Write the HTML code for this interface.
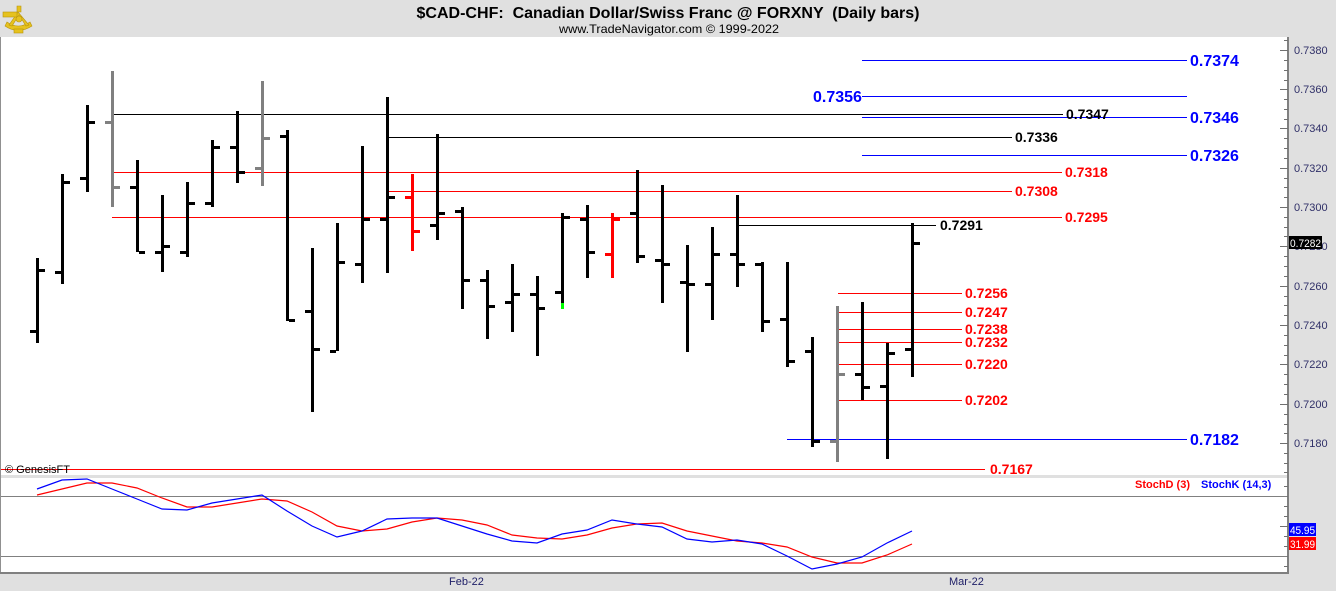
<!DOCTYPE html>
<html><head><meta charset="utf-8"><style>
html,body{margin:0;padding:0;background:#e0e0e0;}
svg{display:block;font-family:"Liberation Sans",Arial,sans-serif;}
</style></head><body>
<svg width="1336" height="591" viewBox="0 0 1336 591" xmlns="http://www.w3.org/2000/svg">
<rect x="0" y="0" width="1336" height="591" fill="#e0e0e0"/>
<!-- logo -->
<g fill="#e6c21e" stroke="#b8940c" stroke-width="0.6">
<path d="M5 26 Q18 35 32 26 L30 22 Q18 30 7 22 Z"/>
<path d="M17 6 L21 6 L21 12 L17 12 Z"/>
<path d="M18 12 L9 25 L12 26 L19 15 L26 26 L29 25 Z"/>
<rect x="3" y="12" width="14" height="5"/>
<rect x="14" y="29" width="9" height="4"/>
<circle cx="19" cy="19" r="3"/>
</g>
<!-- header text -->
<text x="668" y="18" text-anchor="middle" font-size="16" font-weight="bold" fill="#000" textLength="503" lengthAdjust="spacingAndGlyphs" style="white-space:pre">$CAD-CHF:  Canadian Dollar/Swiss Franc @ FORXNY  (Daily bars)</text>
<text x="669" y="33" text-anchor="middle" font-size="12" fill="#000" textLength="220" lengthAdjust="spacingAndGlyphs">www.TradeNavigator.com © 1999-2022</text>
<!-- panels -->
<rect x="1" y="37" width="1286" height="438" fill="#fff"/>
<rect x="1" y="478" width="1286" height="94" fill="#fff"/>
<rect x="0" y="37" width="1" height="537" fill="#909090"/>
<rect x="0" y="572" width="1289" height="2" fill="#808080"/>
<rect x="1287" y="37" width="2" height="537" fill="#808080"/>
<!-- price axis ticks -->
<g stroke="#707070" stroke-width="1">
<path d="M1280 50.5H1288M1280 89.5H1288M1280 128.5H1288M1280 168.5H1288M1280 207.5H1288M1280 246.5H1288M1280 286.5H1288M1280 325.5H1288M1280 364.5H1288M1280 404.5H1288M1280 443.5H1288"/>
<path d="M1284 40.5H1288M1284 60.5H1288M1284 70.5H1288M1284 80.5H1288M1284 99.5H1288M1284 109.5H1288M1284 119.5H1288M1284 138.5H1288M1284 148.5H1288M1284 158.5H1288M1284 178.5H1288M1284 187.5H1288M1284 197.5H1288M1284 217.5H1288M1284 227.5H1288M1284 236.5H1288M1284 256.5H1288M1284 266.5H1288M1284 276.5H1288M1284 296.5H1288M1284 305.5H1288M1284 315.5H1288M1284 335.5H1288M1284 345.5H1288M1284 355.5H1288M1284 374.5H1288M1284 384.5H1288M1284 394.5H1288M1284 414.5H1288M1284 424.5H1288M1284 433.5H1288M1284 453.5H1288M1284 463.5H1288M1284 472.5H1288"/>
<path d="M1280 496.5H1288M1280 526.5H1288M1280 556.5H1288M1284 486.5H1288M1284 506.5H1288M1284 516.5H1288M1284 536.5H1288M1284 546.5H1288M1284 566.5H1288"/>
</g>
<g font-size="11" fill="#303068">
<text x="1294" y="54">0.7380</text>
<text x="1294" y="93">0.7360</text>
<text x="1294" y="132">0.7340</text>
<text x="1294" y="172">0.7320</text>
<text x="1294" y="211">0.7300</text>
<text x="1294" y="250">0.7280</text>
<text x="1294" y="290">0.7260</text>
<text x="1294" y="329">0.7240</text>
<text x="1294" y="368">0.7220</text>
<text x="1294" y="408">0.7200</text>
<text x="1294" y="447">0.7180</text>
</g>
<rect x="1289" y="236" width="33" height="13" fill="#000"/>
<text x="1290" y="247" font-size="11" fill="#fff" textLength="31" lengthAdjust="spacingAndGlyphs">0.7282</text>
<!-- stoch levels -->
<path d="M1 496.5H1287M1 556.5H1287" stroke="#808080" stroke-width="1"/>
<!-- horizontal lines -->
<g stroke-width="1" fill="none">
<path d="M112 114.5H1063M387 137.5H1012M737 225.5H936" stroke="#000"/>
<path d="M112 172.5H1062M387 191.5H1012M112 217.5H1062M1 469.5H985M838 293.5H962M838 312.5H962M838 329.5H962M838 342.5H962M838 364.5H962M838 400.5H962" stroke="#ff0000"/>
<path d="M862 60.5H1187M862 96.5H1187M862 117.5H1187M862 155.5H1187M787 439.5H1187" stroke="#0000ff"/>
</g>
<!-- level labels -->
<g font-weight="bold" font-size="14">
<text x="1066" y="119" fill="#000">0.7347</text>
<text x="1015" y="142" fill="#000">0.7336</text>
<text x="940" y="230" fill="#000">0.7291</text>
<text x="1065" y="177" fill="#ff0000">0.7318</text>
<text x="1015" y="196" fill="#ff0000">0.7308</text>
<text x="1065" y="222" fill="#ff0000">0.7295</text>
<text x="965" y="298" fill="#ff0000">0.7256</text>
<text x="965" y="317" fill="#ff0000">0.7247</text>
<text x="965" y="334" fill="#ff0000">0.7238</text>
<text x="965" y="347" fill="#ff0000">0.7232</text>
<text x="965" y="369" fill="#ff0000">0.7220</text>
<text x="965" y="405" fill="#ff0000">0.7202</text>
<text x="990" y="474" fill="#ff0000">0.7167</text>
</g>
<g font-weight="bold" font-size="16" fill="#0000ff">
<text x="1190" y="66">0.7374</text>
<text x="813" y="102">0.7356</text>
<text x="1190" y="123">0.7346</text>
<text x="1190" y="161">0.7326</text>
<text x="1190" y="445">0.7182</text>
</g>
<text x="5" y="473" font-size="11" fill="#000">© GenesisFT</text>
<!-- bars black -->
<g fill="#000">
<rect x="36" y="258" width="3" height="85"/><rect x="30" y="330" width="6" height="3"/><rect x="39" y="269" width="6" height="3"/>
<rect x="61" y="174" width="3" height="110"/><rect x="55" y="271" width="6" height="3"/><rect x="64" y="181" width="6" height="3"/>
<rect x="86" y="105" width="3" height="87"/><rect x="80" y="177" width="6" height="3"/><rect x="89" y="121" width="6" height="3"/>
<rect x="136" y="160" width="3" height="92"/><rect x="130" y="186" width="6" height="3"/><rect x="139" y="251" width="6" height="3"/>
<rect x="161" y="195" width="3" height="77"/><rect x="155" y="251" width="6" height="3"/><rect x="164" y="245" width="6" height="3"/>
<rect x="186" y="182" width="3" height="75"/><rect x="180" y="251" width="6" height="3"/><rect x="189" y="202" width="6" height="3"/>
<rect x="211" y="140" width="3" height="67"/><rect x="205" y="202" width="6" height="3"/><rect x="214" y="146" width="6" height="3"/>
<rect x="236" y="111" width="3" height="72"/><rect x="230" y="146" width="6" height="3"/><rect x="239" y="171" width="6" height="3"/>
<rect x="286" y="130" width="3" height="191"/><rect x="280" y="135" width="6" height="3"/><rect x="289" y="319" width="6" height="3"/>
<rect x="311" y="248" width="3" height="164"/><rect x="305" y="310" width="6" height="3"/><rect x="314" y="348" width="6" height="3"/>
<rect x="336" y="223" width="3" height="128"/><rect x="330" y="350" width="6" height="3"/><rect x="339" y="261" width="6" height="3"/>
<rect x="361" y="146" width="3" height="137"/><rect x="355" y="263" width="6" height="3"/><rect x="364" y="218" width="6" height="3"/>
<rect x="386" y="97" width="3" height="176"/><rect x="380" y="218" width="6" height="3"/><rect x="389" y="196" width="6" height="3"/>
<rect x="436" y="134" width="3" height="106"/><rect x="430" y="224" width="6" height="3"/><rect x="439" y="212" width="6" height="3"/>
<rect x="461" y="207" width="3" height="102"/><rect x="455" y="210" width="6" height="3"/><rect x="464" y="279" width="6" height="3"/>
<rect x="486" y="270" width="3" height="69"/><rect x="480" y="279" width="6" height="3"/><rect x="489" y="305" width="6" height="3"/>
<rect x="511" y="264" width="3" height="68"/><rect x="505" y="301" width="6" height="3"/><rect x="514" y="293" width="6" height="3"/>
<rect x="536" y="276" width="3" height="80"/><rect x="530" y="293" width="6" height="3"/><rect x="539" y="307" width="6" height="3"/>
<rect x="561" y="213" width="3" height="90"/><rect x="555" y="291" width="6" height="3"/><rect x="564" y="216" width="6" height="3"/>
<rect x="586" y="205" width="3" height="73"/><rect x="580" y="218" width="6" height="3"/><rect x="589" y="251" width="6" height="3"/>
<rect x="636" y="170" width="3" height="93"/><rect x="630" y="212" width="6" height="3"/><rect x="639" y="255" width="6" height="3"/>
<rect x="661" y="185" width="3" height="118"/><rect x="655" y="259" width="6" height="3"/><rect x="664" y="263" width="6" height="3"/>
<rect x="686" y="245" width="3" height="107"/><rect x="680" y="281" width="6" height="3"/><rect x="689" y="283" width="6" height="3"/>
<rect x="711" y="227" width="3" height="93"/><rect x="705" y="283" width="6" height="3"/><rect x="714" y="253" width="6" height="3"/>
<rect x="736" y="195" width="3" height="92"/><rect x="730" y="253" width="6" height="3"/><rect x="739" y="263" width="6" height="3"/>
<rect x="761" y="262" width="3" height="70"/><rect x="755" y="263" width="6" height="3"/><rect x="764" y="320" width="6" height="3"/>
<rect x="786" y="262" width="3" height="105"/><rect x="780" y="318" width="6" height="3"/><rect x="789" y="360" width="6" height="3"/>
<rect x="811" y="337" width="3" height="110"/><rect x="805" y="350" width="6" height="3"/><rect x="814" y="440" width="6" height="3"/>
<rect x="861" y="302" width="3" height="98"/><rect x="855" y="373" width="6" height="3"/><rect x="864" y="386" width="6" height="3"/>
<rect x="886" y="343" width="3" height="116"/><rect x="880" y="385" width="6" height="3"/><rect x="889" y="352" width="6" height="3"/>
<rect x="911" y="223" width="3" height="154"/><rect x="905" y="348" width="6" height="3"/><rect x="914" y="242" width="6" height="3"/>
</g>
<rect x="561" y="303" width="3" height="6" fill="#00ff00"/>
<!-- gray bars -->
<g fill="#808080">
<rect x="111" y="71" width="3" height="136"/><rect x="105" y="121" width="6" height="3"/><rect x="114" y="186" width="6" height="3"/>
<rect x="261" y="81" width="3" height="105"/><rect x="255" y="167" width="6" height="3"/><rect x="264" y="137" width="6" height="3"/>
<rect x="836" y="306" width="3" height="156"/><rect x="830" y="440" width="6" height="3"/><rect x="839" y="373" width="6" height="3"/>
</g>
<!-- red bars -->
<g fill="#ff0000">
<rect x="411" y="174" width="3" height="77"/><rect x="405" y="196" width="6" height="3"/><rect x="414" y="230" width="6" height="3"/>
<rect x="611" y="213" width="3" height="65"/><rect x="605" y="253" width="6" height="3"/><rect x="614" y="218" width="6" height="3"/>
</g>
<!-- stochastics -->
<polyline fill="none" stroke="#ff0000" stroke-width="1.2" points="37,495 62,489 87,483 112,483 137,488 162,498 187,507 212,507 237,503 262,499 287,501 312,512 337,526 362,531 387,529 412,522 437,518 462,520 487,525 512,535 537,538 562,539 587,535 612,528 637,524 662,523 687,531 712,536 737,541 762,543 787,547 812,557 837,563 862,563 887,555 912,544"/>
<polyline fill="none" stroke="#0000ff" stroke-width="1.2" points="37,489 62,480 87,479 112,489 137,499 162,509 187,510 212,503 237,499 262,495 287,511 312,526 337,537 362,531 387,519 412,518 437,518 462,526 487,534 512,541 537,543 562,534 587,530 612,520 637,524 662,527 687,539 712,542 737,540 762,544 787,556 812,569 837,564 862,557 887,543 912,531"/>
<text x="1135" y="488" font-size="11" font-weight="bold" fill="#ff0000">StochD (3)</text>
<text x="1201" y="488" font-size="11" font-weight="bold" fill="#0000ff">StochK (14,3)</text>
<rect x="1289" y="523" width="27" height="13" fill="#0000ff"/>
<text x="1290" y="534" font-size="11" fill="#fff" textLength="25" lengthAdjust="spacingAndGlyphs">45.95</text>
<rect x="1289" y="537" width="27" height="13" fill="#ff0000"/>
<text x="1290" y="548" font-size="11" fill="#fff" textLength="25" lengthAdjust="spacingAndGlyphs">31.99</text>
<!-- date labels -->
<text x="449" y="585" font-size="11" fill="#202068">Feb-22</text>
<text x="949" y="585" font-size="11" fill="#202068">Mar-22</text>
</svg>
</body></html>
